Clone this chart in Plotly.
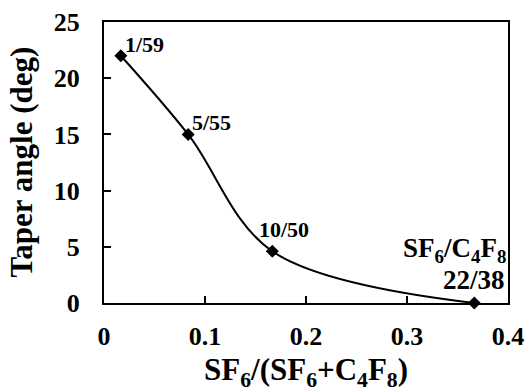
import plotly.graph_objects as go

x_ratio = [1/60, 5/60, 10/60, 22/60]
taper = [22.0, 15.0, 4.6, 0.0]
point_labels = ["1/59", "5/55", "10/50", "22/38"]
x_ticks = [0, 0.1, 0.2, 0.3, 0.4]
x_tick_text = ["0", "0.1", "0.2", "0.3", "0.4"]
y_ticks = [0, 5, 10, 15, 20, 25]

FONT = "Liberation Serif"

fig = go.Figure()
fig.add_trace(go.Scatter(
    x=x_ratio, y=taper, mode="lines+markers",
    line=dict(color="black", width=2, shape="spline", smoothing=1.0),
    marker=dict(symbol="diamond", size=10, color="black"),
    showlegend=False, cliponaxis=False,
))

offsets = [(2, -3), (2, -3), (-15, 7)]
for i in range(3):
    dx, dy = offsets[i]
    fig.add_annotation(x=x_ratio[i], y=taper[i], text="<b>%s</b>" % point_labels[i],
                       showarrow=False, xanchor="left", yanchor="bottom", xshift=dx, yshift=dy,
                       font=dict(family=FONT, size=22, color="black"))
fig.add_annotation(x=x_ratio[3], y=taper[3], text="<b>%s</b>" % point_labels[3],
                   showarrow=False, xanchor="right", yanchor="bottom", xshift=33, yshift=6,
                   font=dict(family=FONT, size=27, color="black"))
fig.add_annotation(x=x_ratio[3], y=taper[3],
                   text="<b>SF<sub>6</sub>/C<sub>4</sub>F<sub>8</sub></b>",
                   showarrow=False, xanchor="right", yanchor="bottom", xshift=34, yshift=34,
                   font=dict(family=FONT, size=27, color="black"))

# y-axis title (placed as rotated paper annotation for exact position)
fig.add_annotation(xref="paper", yref="paper", x=0, y=0.5, xshift=-83,
                   text="<b>Taper angle (deg)</b>", textangle=-90, showarrow=False,
                   xanchor="center", yanchor="middle",
                   font=dict(family=FONT, size=31, color="black"))

fig.update_layout(
    width=525, height=392,
    margin=dict(l=104, r=17, t=22, b=89),
    plot_bgcolor="white", paper_bgcolor="white",
    font=dict(family=FONT, color="black"),
    xaxis=dict(range=[0, 0.4], tickvals=x_ticks, ticktext=["<b>%s</b>" % t for t in x_tick_text],
               ticks="inside", ticklen=7, tickwidth=2, tickcolor="black",
               showline=True, linecolor="black", linewidth=2, mirror=True,
               showgrid=False, zeroline=False, automargin=False,
               tickfont=dict(family=FONT, size=26, color="black"), ticklabelstandoff=9,
               title=dict(text="<b>SF<sub>6</sub>/(SF<sub>6</sub>+C<sub>4</sub>F<sub>8</sub>)</b>",
                          font=dict(family=FONT, size=31, color="black"), standoff=10)),
    yaxis=dict(range=[0, 25], tickvals=y_ticks, ticktext=["<b>%d</b>" % t for t in y_ticks],
               ticks="inside", ticklen=7, tickwidth=2, tickcolor="black",
               showline=True, linecolor="black", linewidth=2, mirror=True,
               showgrid=False, zeroline=False, automargin=False,
               tickfont=dict(family=FONT, size=26, color="black"), ticklabelstandoff=17),
)

fig.write_html("out.html", config={"displayModeBar": False},
               post_script="document.body.style.margin='0';")
